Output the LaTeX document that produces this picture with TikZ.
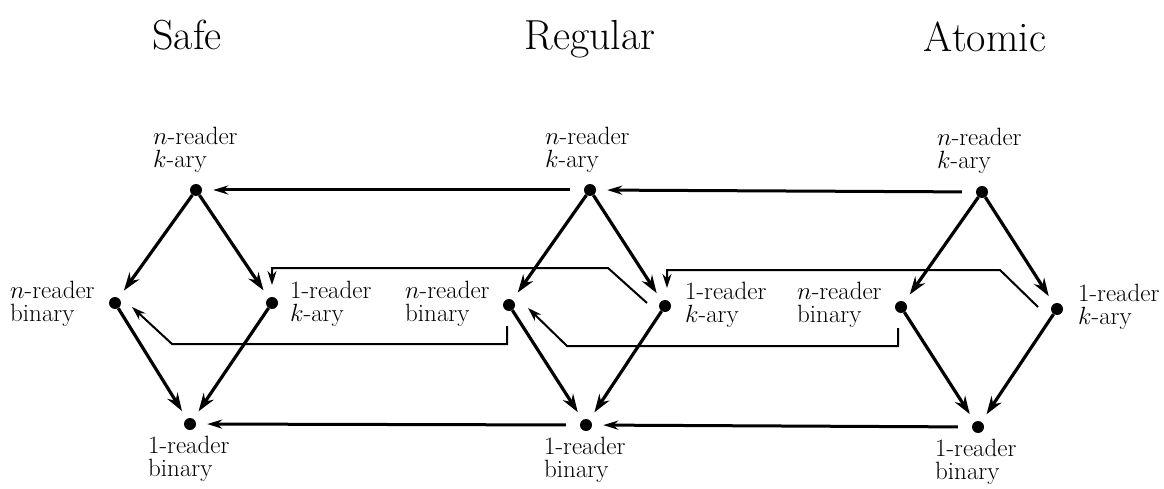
\documentclass[tikz,border=0pt]{standalone}
\usepackage{fontspec}
\usetikzlibrary{arrows.meta,calc}
\begin{document}
\begin{tikzpicture}[x=1pt,y=-1pt,
  dot/.style={circle,fill=black,inner sep=0pt,minimum size=12pt},
  lbl/.style={anchor=base west,align=left,inner sep=0pt,font=\fontsize{25}{23}\selectfont},
  ttl/.style={anchor=base,inner sep=0pt,font=\fontsize{42}{44}\selectfont},
  edgearr/.style={line width=3.2pt,-{Stealth[length=18pt,width=12pt]},shorten >=9pt},
  hline/.style={line width=3pt,-{Stealth[length=15pt,width=9pt]},shorten <=14pt,shorten >=11pt},
  route/.style={line width=2pt,-{Stealth[length=14pt,width=9pt]}}]
\useasboundingbox (0,0) rectangle (1164,489);

% titles
\node[ttl] (t1) at (187,50) {Safe};
\node[ttl] (t2) at (590,50) {Regular};
\node[ttl] (t3) at (985,52) {Atomic};

% dots
\node[dot] (sT) at (196,190) {};
\node[dot] (sL) at (115,303) {};
\node[dot] (sR) at (272,303) {};
\node[dot] (sB) at (190,424) {};
\node[dot] (rT) at (590,190) {};
\node[dot] (rL) at (509,305) {};
\node[dot] (rR) at (665,306) {};
\node[dot] (rB) at (586,425) {};
\node[dot] (aT) at (982,192) {};
\node[dot] (aL) at (901,307) {};
\node[dot] (aR) at (1057,309) {};
\node[dot] (aB) at (978,427) {};

% labels (base anchor = baseline of last line)
\node[lbl] (lsT) at (153,168) {$n$-reader\\$k$-ary};
\node[lbl] (lsL) at (10,321) {$n$-reader\\binary};
\node[lbl] (lsR) at (290,321) {1-reader\\$k$-ary};
\node[lbl] (lsB) at (148,476) {1-reader\\binary};
\node[lbl] (lrT) at (545,168) {$n$-reader\\$k$-ary};
\node[lbl] (lrL) at (405,321) {$n$-reader\\binary};
\node[lbl] (lrR) at (685,322) {1-reader\\$k$-ary};
\node[lbl] (lrB) at (544,477) {1-reader\\binary};
\node[lbl] (laT) at (937,169) {$n$-reader\\$k$-ary};
\node[lbl] (laL) at (797,322) {$n$-reader\\binary};
\node[lbl] (laR) at (1078,324) {1-reader\\$k$-ary};
\node[lbl] (laB) at (935,479) {1-reader\\binary};

% diamond edges
\foreach \p in {s,r,a}{
  \draw[edgearr] (\p T) -- (\p L);
  \draw[edgearr] (\p T) -- (\p R);
  \draw[edgearr] (\p L) -- (\p B);
  \draw[edgearr] (\p R) -- (\p B);
}

% horizontal connectors
\draw[hline] (rT) -- (sT);
\draw[hline] (aT) -- (rT);
\draw[hline] (rB) -- (sB);
\draw[hline] (aB) -- (rB);

% routed connectors
\draw[route] ($(rR)+(-18,-3)$) -- ($(rR)+(-57,-38)$) -- ($(sR)+(0,-35)$) -- ($(sR)+(0,-18)$);
\draw[route] ($(aR)+(-19,-2)$) -- ($(aR)+(-57,-39)$) -- ($(rR)+(2,-36)$) -- ($(rR)+(2,-18)$);
\draw[route] ($(rL)+(-2,21)$) -- ($(rL)+(-2,39)$) -- ($(sL)+(57,41)$) -- ($(sL)+(17,4)$);
\draw[route] ($(aL)+(-3,21)$) -- ($(aL)+(-3,39)$) -- ($(rL)+(58,41)$) -- ($(rL)+(19,3)$);
\end{tikzpicture}
\end{document}
